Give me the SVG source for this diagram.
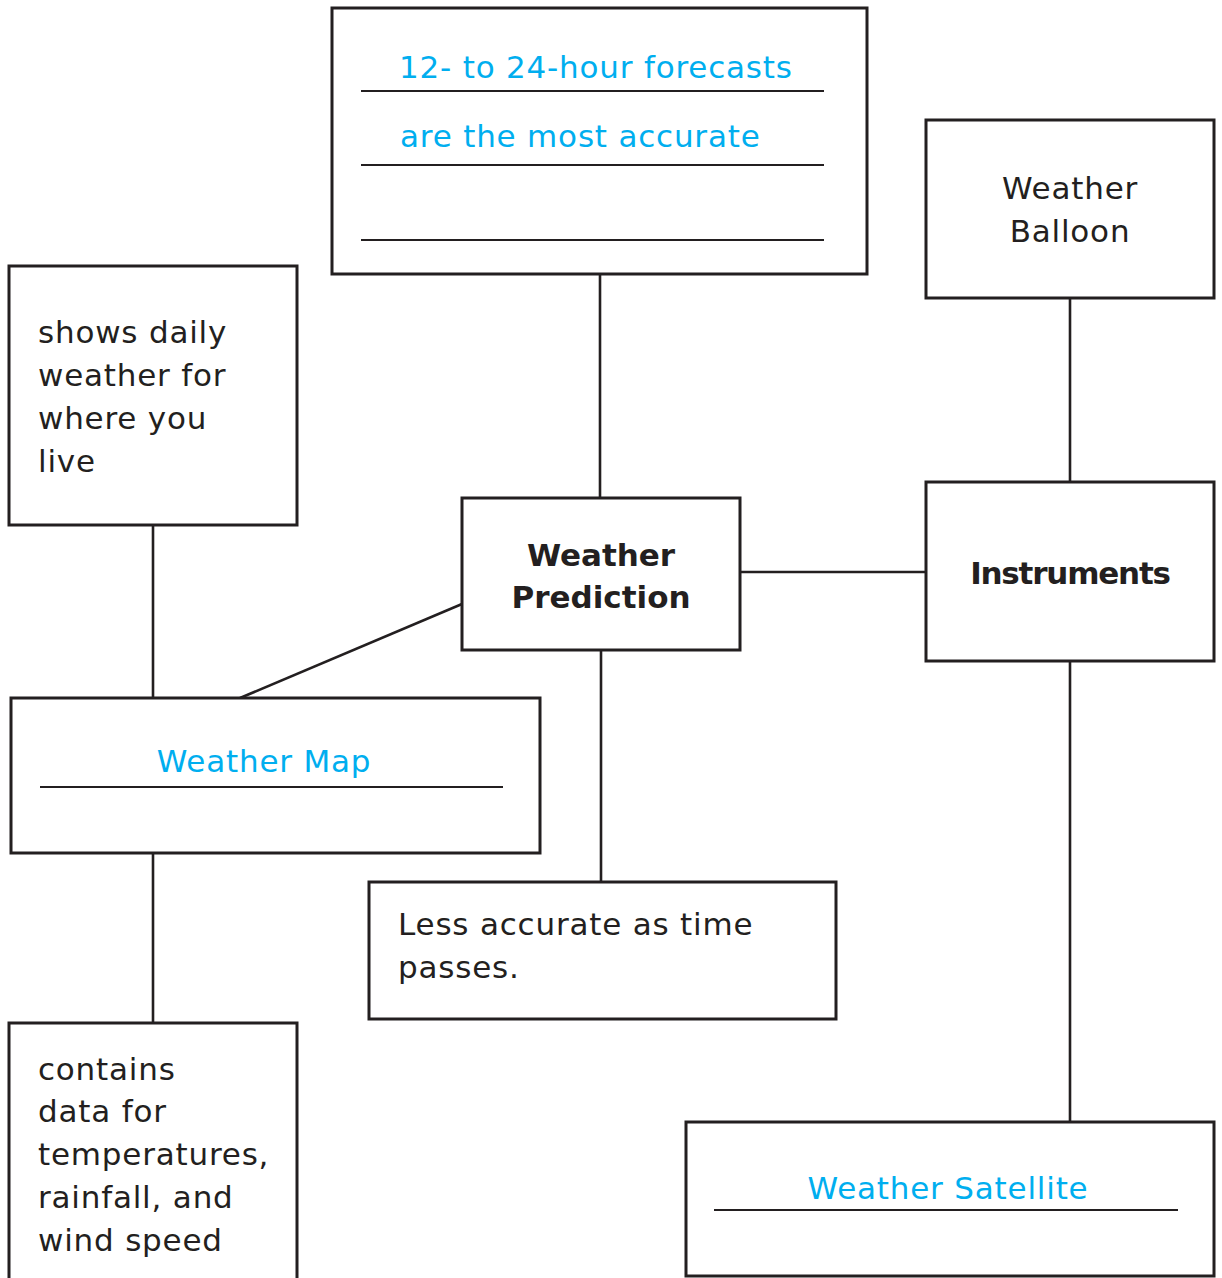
<svg xmlns="http://www.w3.org/2000/svg" width="1222" height="1278" viewBox="0 0 1222 1278">
  <style>
    .box { fill: #ffffff; stroke: #231f20; stroke-width: 3; }
    .rule { stroke: #231f20; stroke-width: 2.2; }
    .link { stroke: #231f20; stroke-width: 2.6; fill: none; }
    .txt { font-family: "DejaVu Sans", "Liberation Sans", sans-serif; font-size: 31px; letter-spacing: 0.8px; fill: #231f20; }
    .blue { fill: #00aeef; }
    .bold { font-weight: 700; letter-spacing: 0; }
    .mid { text-anchor: middle; }
  </style>
  <rect width="1222" height="1278" fill="#ffffff"/>

  <!-- connectors -->
  <g id="connectors">
    <line class="link" x1="600" y1="274" x2="600" y2="498"/>
    <line class="link" x1="1070" y1="298" x2="1070" y2="482"/>
    <line class="link" x1="153" y1="525" x2="153" y2="698"/>
    <line class="link" x1="462" y1="604" x2="240" y2="698"/>
    <line class="link" x1="740" y1="572" x2="926" y2="572"/>
    <line class="link" x1="601" y1="650" x2="601" y2="882"/>
    <line class="link" x1="153" y1="853" x2="153" y2="1023"/>
    <line class="link" x1="1070" y1="661" x2="1070" y2="1122"/>
  </g>

  <!-- forecast accuracy note -->
  <g id="forecast-note">
    <rect class="box" x="332" y="8" width="535" height="266"/>
    <line class="rule" x1="361" y1="91" x2="824" y2="91"/>
    <line class="rule" x1="361" y1="165" x2="824" y2="165"/>
    <line class="rule" x1="361" y1="240" x2="824" y2="240"/>
    <text class="txt blue" x="399" y="78">12- to 24-hour forecasts</text>
    <text class="txt blue" x="400" y="147">are the most accurate</text>
  </g>

  <g id="weather-balloon">
    <rect class="box" x="926" y="120" width="288" height="178"/>
    <text class="txt mid" x="1070" y="199">Weather</text>
    <text class="txt mid" x="1070" y="242">Balloon</text>
  </g>

  <g id="daily-weather">
    <rect class="box" x="9" y="266" width="288" height="259"/>
    <text class="txt" x="38" y="343">shows daily</text>
    <text class="txt" x="38" y="386">weather for</text>
    <text class="txt" x="38" y="429">where you</text>
    <text class="txt" x="38" y="472">live</text>
  </g>

  <g id="weather-prediction">
    <rect class="box" x="462" y="498" width="278" height="152"/>
    <text class="txt bold mid" x="601" y="566">Weather</text>
    <text class="txt bold mid" x="601" y="608">Prediction</text>
  </g>

  <g id="instruments">
    <rect class="box" x="926" y="482" width="288" height="179"/>
    <text class="txt bold mid" x="1070" y="584" style="letter-spacing:-1.2px">Instruments</text>
  </g>

  <g id="weather-map">
    <rect class="box" x="11" y="698" width="529" height="155"/>
    <line class="rule" x1="40" y1="787" x2="503" y2="787"/>
    <text class="txt blue mid" x="264" y="772">Weather Map</text>
  </g>

  <g id="accuracy-over-time">
    <rect class="box" x="369" y="882" width="467" height="137"/>
    <text class="txt" x="398" y="935">Less accurate as time</text>
    <text class="txt" x="398" y="978">passes.</text>
  </g>

  <g id="map-data">
    <rect class="box" x="9" y="1023" width="288" height="262"/>
    <text class="txt" x="38" y="1080">contains</text>
    <text class="txt" x="38" y="1122">data for</text>
    <text class="txt" x="38" y="1165">temperatures,</text>
    <text class="txt" x="38" y="1208">rainfall, and</text>
    <text class="txt" x="38" y="1251">wind speed</text>
  </g>

  <g id="weather-satellite">
    <rect class="box" x="686" y="1122" width="528" height="154"/>
    <line class="rule" x1="714" y1="1210" x2="1178" y2="1210"/>
    <text class="txt blue mid" x="948" y="1199">Weather Satellite</text>
  </g>
</svg>
